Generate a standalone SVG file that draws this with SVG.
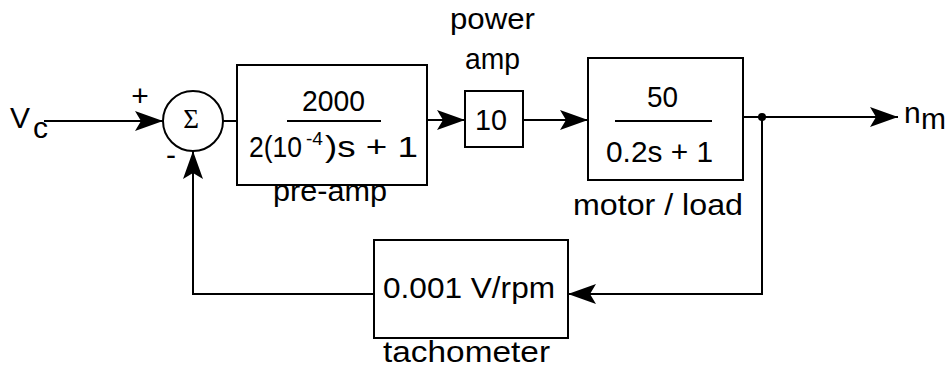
<svg xmlns="http://www.w3.org/2000/svg" width="945" height="373" viewBox="0 0 945 373">
<style>
text{font-family:"Liberation Sans",Arial,sans-serif;font-size:30px;fill:#000}
.m{text-anchor:middle}
.box{fill:#fff;stroke:#000;stroke-width:2}
.ln{fill:none;stroke:#000;stroke-width:2}
.ar{fill:none;stroke:#000;stroke-width:2;marker-end:url(#ah)}
</style>
<defs>
<marker id="ah" markerUnits="userSpaceOnUse" markerWidth="28" markerHeight="20" refX="28" refY="10" orient="auto" viewBox="0 0 28 20">
<path d="M0,0 L28,10 L0,20 L6,10 Z" fill="#000"/>
</marker>
</defs>
<rect width="945" height="373" fill="#fff"/>
<g id="connectors">
<path class="ar" d="M44,121 H163"/>
<path class="ln" d="M223,121 H237"/>
<path class="ar" d="M427,120 H465"/>
<path class="ar" d="M523,120 H588"/>
<path class="ar" d="M743,117 H898"/>
<path class="ar" d="M762,117 V294 H568"/>
<path class="ar" d="M374,294 H193 V151"/>
<circle cx="762" cy="117" r="4" fill="#000"/>
</g>
<g id="input">
<text x="10" y="128" font-size="31">V</text>
<text x="33" y="138" font-size="20">c</text>
</g>
<g id="sum">
<circle cx="193" cy="121" r="30" class="box"/>
<text x="191" y="128" class="m" style="font-family:'Liberation Serif','Times New Roman',serif;font-size:27px">Σ</text>
<text x="140" y="106" class="m" font-size="26">+</text>
<text x="171" y="165" class="m" font-size="26">-</text>
</g>
<g id="preamp">
<rect x="237" y="65" width="190" height="120" class="box"/>
<text x="302" y="111" textLength="63" lengthAdjust="spacingAndGlyphs">2000</text>
<line x1="287" y1="121" x2="381" y2="121" class="ln"/>
<text x="249" y="157"><tspan textLength="53" lengthAdjust="spacingAndGlyphs">2(10</tspan><tspan x="306" y="145" font-size="18" textLength="17" lengthAdjust="spacingAndGlyphs">-4</tspan><tspan x="325" y="157" textLength="93" lengthAdjust="spacingAndGlyphs">)s + 1</tspan></text>
<text x="273" y="201" textLength="114" lengthAdjust="spacingAndGlyphs">pre-amp</text>
</g>
<g id="poweramp">
<text x="450" y="29" textLength="85" lengthAdjust="spacingAndGlyphs">power</text>
<text x="465" y="69" textLength="55" lengthAdjust="spacingAndGlyphs">amp</text>
<rect x="465" y="91" width="58" height="56" class="box"/>
<text x="475" y="130" textLength="32" lengthAdjust="spacingAndGlyphs">10</text>
</g>
<g id="motor">
<rect x="588" y="58" width="155" height="122" class="box"/>
<text x="647" y="107" textLength="31" lengthAdjust="spacingAndGlyphs">50</text>
<line x1="615" y1="121" x2="712" y2="121" class="ln"/>
<text x="606" y="162" textLength="107" lengthAdjust="spacingAndGlyphs">0.2s + 1</text>
<text x="573" y="215" textLength="170" lengthAdjust="spacingAndGlyphs">motor / load</text>
</g>
<g id="output">
<text x="904" y="123" font-size="31">n</text>
<text x="921" y="129" font-size="21">m</text>
</g>
<g id="tachometer">
<rect x="374" y="240" width="194" height="98" class="box"/>
<text x="383" y="298" textLength="172" lengthAdjust="spacingAndGlyphs">0.001 V/rpm</text>
<text x="383" y="362" textLength="167" lengthAdjust="spacingAndGlyphs">tachometer</text>
</g>
</svg>
